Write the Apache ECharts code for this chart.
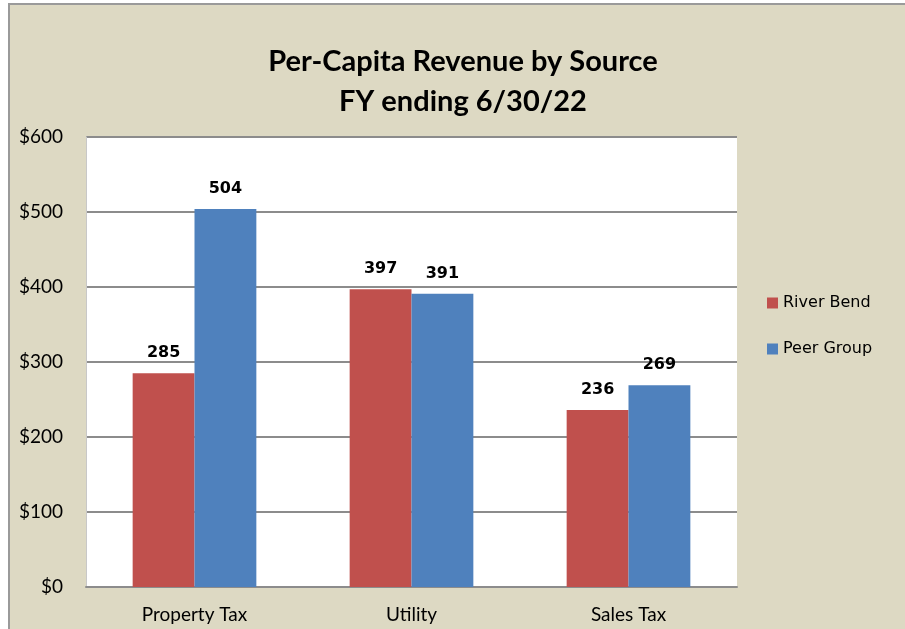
<!DOCTYPE html>
<html>
<head>
<meta charset="utf-8">
<script src="https://cdn.jsdelivr.net/npm/echarts@6/dist/echarts.min.js"></script>
<style>
  html, body { margin: 0; padding: 0; background: #ffffff; }
  #frame {
    position: absolute; left: 8px; top: 3px; width: 905px; height: 640px;
    border-left: 2px solid #9a9a9a; border-top: 2px solid #9a9a9a;
    background: #ddd9c3;
  }
  #chart { position: absolute; left: -10px; top: -5px; width: 905px; height: 629px; }
</style>
</head>
<body>
<div id="frame"><div id="chart"></div></div>
<script>
const categories = ['Property Tax', 'Utility', 'Sales Tax']
const riverBend = [285, 397, 236]
const peerGroup = [504, 391, 269]
const yTicks = [0, 100, 200, 300, 400, 500, 600]

const chart = echarts.init(document.getElementById('chart'))

const labelStyle = {
  show: true,
  position: 'top',
  distance: 12,
  color: '#000',
  fontFamily: 'DejaVu Sans',
  fontWeight: 'bold',
  fontSize: 16
}

chart.setOption({
  backgroundColor: 'transparent',
  animation: false,
  title: {
    text: 'Per-Capita Revenue by Source\nFY ending 6/30/22',
    left: 458,
    top: 37,
    textAlign: 'center',
    textStyle: {
      fontFamily: 'Lato',
      fontWeight: 'bold',
      fontSize: 29,
      lineHeight: 40,
      color: '#000'
    }
  },
  legend: {
    orient: 'vertical',
    left: 762,
    top: 290,
    itemWidth: 11,
    itemHeight: 11,
    itemGap: 30,
    icon: 'rect',
    textStyle: { fontFamily: 'DejaVu Sans', fontSize: 16, color: '#000' },
    data: ['River Bend', 'Peer Group']
  },
  grid: { left: 86, right: 168, top: 137, bottom: 42, containLabel: false, show: true, backgroundColor: '#fff', borderWidth: 0 },
  xAxis: {
    type: 'category',
    data: categories,
    axisTick: { show: false },
    axisLine: { lineStyle: { color: '#8c8c8c', width: 2 } },
    axisLabel: { color: '#000', fontFamily: 'Lato', fontSize: 19, margin: 18 }
  },
  yAxis: {
    type: 'value',
    min: yTicks[0],
    max: yTicks[yTicks.length - 1],
    interval: 100,
    axisLine: { show: true, lineStyle: { color: '#c8c8c8', width: 1 } },
    axisTick: { show: false },
    splitLine: { lineStyle: { color: '#8c8c8c', width: 2 } },
    axisLabel: {
      color: '#000', fontFamily: 'Lato', fontSize: 19, margin: 23,
      formatter: v => '$' + v
    }
  },
  series: [
    {
      name: 'River Bend', type: 'bar', data: riverBend,
      barGap: '0%', barCategoryGap: '43%',
      itemStyle: { color: '#c0504d' }, label: labelStyle
    },
    {
      name: 'Peer Group', type: 'bar', data: peerGroup,
      itemStyle: { color: '#4f81bd' }, label: labelStyle
    }
  ]
})
</script>
</body>
</html>
